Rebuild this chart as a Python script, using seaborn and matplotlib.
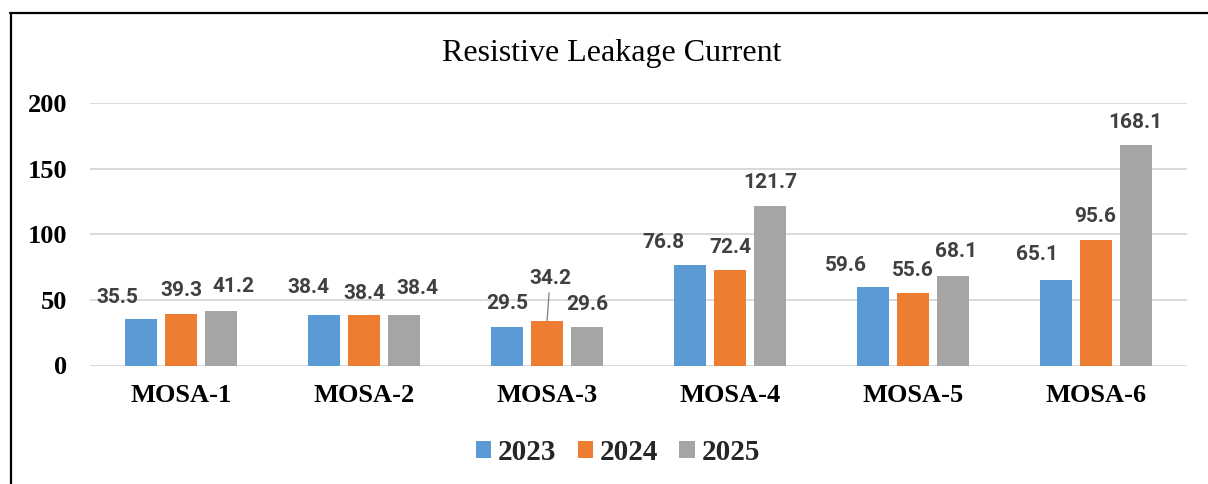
import matplotlib
matplotlib.use("Agg")
import matplotlib.pyplot as plt
from matplotlib.lines import Line2D
from matplotlib.patches import Patch
import seaborn as sns
import pandas as pd

# ---- data ----
categories = ["MOSA-1", "MOSA-2", "MOSA-3", "MOSA-4", "MOSA-5", "MOSA-6"]
years = ["2023", "2024", "2025"]
values_2023 = [35.5, 38.4, 29.5, 76.8, 59.6, 65.1]
values_2024 = [39.3, 38.4, 34.2, 72.4, 55.6, 95.6]
values_2025 = [41.2, 38.4, 29.6, 121.7, 68.1, 168.1]
y_ticks = [0, 50, 100, 150, 200]
title = "Resistive Leakage Current"

colors = {"2023": "#5B9BD5", "2024": "#ED7D31", "2025": "#A5A5A5"}

# label placement (pixel offsets from bar top centre), as in the source chart
label_offsets = {
    "2023": [(-24, 23), (-16, 30), (0, 25), (-26.5, 24), (-27, 24), (-19, 28)],
    "2024": [(0, 25), (0, 23.5), (3, 44), (0, 24.7), (0, 24.4), (0, 26)],
    "2025": [(12, 27), (13, 29), (0, 24), (0, 25), (3, 27), (0, 24.6)],
}
leader_lines = {("2024", 2)}

df = pd.DataFrame({
    "category": categories * 3,
    "year": [y for y in years for _ in categories],
    "value": values_2023 + values_2024 + values_2025,
})

sns.set_style("white")
plt.rcParams["font.family"] = ["Liberation Serif", "DejaVu Serif"]

fig = plt.figure(figsize=(12.08, 4.84), dpi=100)
W, H = 1208, 484
ax = fig.add_axes([90 / W, 1 - 365.5 / H, (1187 - 90) / W, (365.5 - 103) / H])

sns.barplot(data=df, x="category", y="value", hue="year", palette=colors,
            width=0.657, gap=0.2, ax=ax, legend=False, saturation=1,
            edgecolor="none", linewidth=0, zorder=3)

ax.set_ylim(0, 200)
ax.set_xlim(-0.5, len(categories) - 0.5)
ax.set_yticks(y_ticks)
ax.set_yticklabels([str(t) for t in y_ticks], fontsize=19, fontweight="bold")
ax.set_xticks(range(len(categories)))
ax.set_xticklabels(categories, fontsize=19, fontweight="bold")
ax.tick_params(axis="y", length=0, pad=16.5, labelcolor="black")
ax.tick_params(axis="x", length=0, pad=13.5, labelcolor="black")
ax.set_xlabel("")
ax.set_ylabel("")
for s in ax.spines.values():
    s.set_visible(False)
ax.yaxis.grid(True, color="#D9D9D9", linewidth=1.4, zorder=0)
ax.xaxis.grid(False)
ax.set_axisbelow(True)

# data labels
for yr, cont in zip(years, ax.containers):
    for i, bar in enumerate(cont):
        x = bar.get_x() + bar.get_width() / 2
        h = bar.get_height()
        dx, dy = label_offsets[yr][i]
        kw = {}
        if (yr, i) in leader_lines:
            kw["arrowprops"] = dict(arrowstyle="-", color="#7F7F7F", lw=0.9,
                                    shrinkA=1, shrinkB=0)
        ax.annotate(f"{h:.1f}", xy=(x, h), xytext=(dx, dy - 7.5),
                    textcoords="offset pixels", ha="center", va="baseline",
                    fontsize=15, fontweight="bold", color="#404040",
                    family=["Roboto", "DejaVu Sans"], zorder=5, **kw)

# title
fig.text(612 / W, 1 - 54 / H, title, ha="center", va="center", fontsize=23,
         color="black")

# legend
handles = [Patch(facecolor=colors[y], edgecolor="none", label=y) for y in years]
fig.legend(handles=handles, loc="center", bbox_to_anchor=(618 / W, 1 - 452 / H),
           ncol=3, frameon=False, prop={"size": 21, "weight": "bold"},
           handlelength=0.52, handleheight=0.52, handletextpad=0.25,
           columnspacing=0.72)

# outer frame (left and top edges)
fig.add_artist(Line2D([10.5 / W, 10.5 / W], [0, 1 - 12.5 / H], color="black",
                      linewidth=1.6, transform=fig.transFigure))
fig.add_artist(Line2D([10 / W, 1], [1 - 12.5 / H, 1 - 12.5 / H], color="black",
                      linewidth=1.6, transform=fig.transFigure))

fig.savefig("out.png", dpi=100)
